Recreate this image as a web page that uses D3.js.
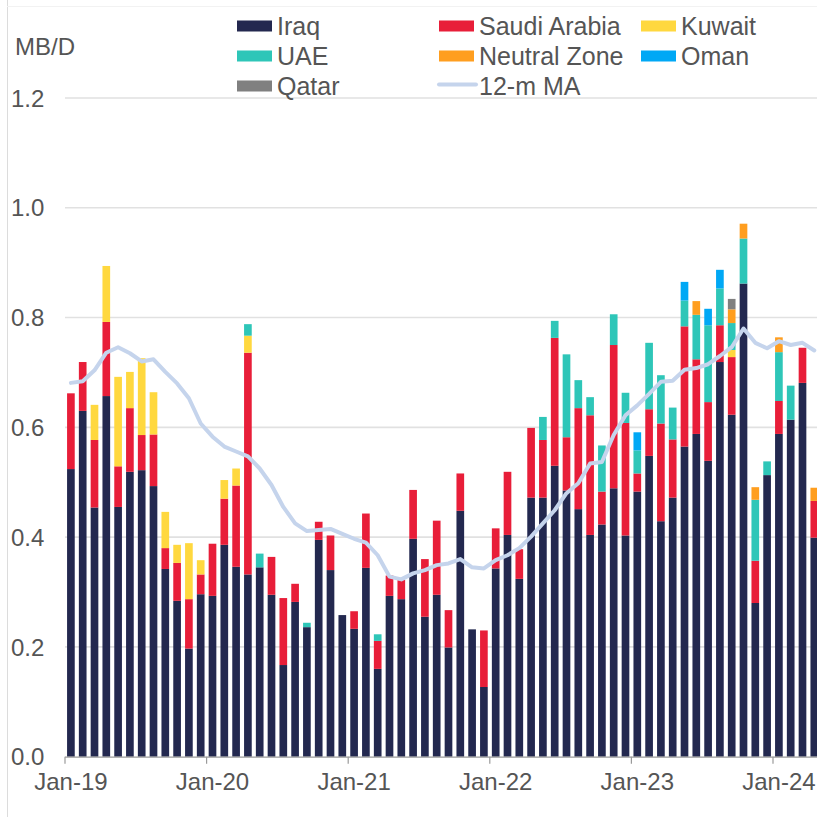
<!DOCTYPE html>
<html>
<head>
<meta charset="utf-8">
<script src="https://cdn.jsdelivr.net/npm/d3@7"></script>
<style>
  body { margin: 0; background: #fff; }
  svg { display: block; font-family: "Liberation Sans", Arial, sans-serif; }
</style>
</head>
<body>
<div id="chart"></div>
<script>
// months Jan-19 .. Apr-24
var months = ["Jan-19","Feb-19","Mar-19","Apr-19","May-19","Jun-19","Jul-19","Aug-19","Sep-19","Oct-19","Nov-19","Dec-19",
  "Jan-20","Feb-20","Mar-20","Apr-20","May-20","Jun-20","Jul-20","Aug-20","Sep-20","Oct-20","Nov-20","Dec-20",
  "Jan-21","Feb-21","Mar-21","Apr-21","May-21","Jun-21","Jul-21","Aug-21","Sep-21","Oct-21","Nov-21","Dec-21",
  "Jan-22","Feb-22","Mar-22","Apr-22","May-22","Jun-22","Jul-22","Aug-22","Sep-22","Oct-22","Nov-22","Dec-22",
  "Jan-23","Feb-23","Mar-23","Apr-23","May-23","Jun-23","Jul-23","Aug-23","Sep-23","Oct-23","Nov-23","Dec-23",
  "Jan-24","Feb-24","Mar-24","Apr-24"];

var iraq = [0.524,0.630,0.454,0.657,0.455,0.519,0.522,0.493,0.342,0.284,0.197,0.296,
  0.293,0.386,0.346,0.332,0.345,0.295,0.167,0.282,0.236,0.395,0.340,0.258,
  0.233,0.344,0.160,0.293,0.287,0.397,0.255,0.295,0.199,0.448,0.232,0.127,
  0.343,0.404,0.324,0.472,0.472,0.530,0.485,0.451,0.404,0.423,0.489,0.403,
  0.483,0.548,0.429,0.472,0.565,0.588,0.539,0.719,0.623,0.862,0.280,0.513,
  0.588,0.614,0.681,0.399];
var saudi = [0.138,0.089,0.123,0.135,0.074,0.116,0.064,0.094,0.038,0.069,0.090,0.036,
  0.095,0.084,0.148,0.404,0,0.069,0.122,0.033,0,0.033,0.063,0,
  0.032,0.099,0.051,0.037,0.035,0.089,0.105,0.135,0.068,0.068,0,0.103,
  0.073,0.115,0.054,0.127,0.105,0.233,0.097,0.184,0.218,0.060,0.261,0.205,
  0.033,0.085,0.178,0.106,0.219,0.136,0.107,0.067,0.105,0,0.077,0,
  0.060,0,0.064,0.067];
var kuwait = [0,0,0.064,0.102,0.163,0.066,0.140,0.077,0.066,0.033,0.102,0.026,
  0,0.034,0.031,0.031,0,0,0,0,0,0,0,0,
  0,0,0,0,0,0,0,0,0,0,0,0,
  0,0,0,0,0,0,0,0,0,0,0,0,
  0,0,0,0,0,0,0,0,0.013,0,0,0,
  0,0,0,0];
var uae = [0,0,0,0,0,0,0,0,0,0,0,0,
  0,0,0,0.021,0.025,0,0,0,0.008,0,0,0,
  0,0,0.012,0,0,0,0,0,0,0,0,0,
  0,0,0,0,0.042,0.031,0.151,0.051,0.033,0.084,0.056,0.055,
  0.042,0.121,0.088,0.058,0.047,0.081,0.140,0.067,0.049,0.082,0.111,0.025,
  0.089,0.062,0,0];
var neutral = [0,0,0,0,0,0,0,0,0,0,0,0,
  0,0,0,0,0,0,0,0,0,0,0,0,
  0,0,0,0,0,0,0,0,0,0,0,0,
  0,0,0,0,0,0,0,0,0,0,0,0,
  0,0,0,0,0,0.025,0,0,0.025,0.027,0.023,0,
  0.027,0,0,0.024];
var oman = [0,0,0,0,0,0,0,0,0,0,0,0,
  0,0,0,0,0,0,0,0,0,0,0,0,
  0,0,0,0,0,0,0,0,0,0,0,0,
  0,0,0,0,0,0,0,0,0,0,0,0,
  0.033,0,0,0,0.034,0,0.030,0.034,0,0,0,0,
  0,0,0,0];
var qatar = [0,0,0,0,0,0,0,0,0,0,0,0,
  0,0,0,0,0,0,0,0,0,0,0,0,
  0,0,0,0,0,0,0,0,0,0,0,0,
  0,0,0,0,0,0,0,0,0,0,0,0,
  0,0,0,0,0,0,0,0,0.019,0,0,0,
  0,0,0,0];
var ma12 = [0.681,0.684,0.704,0.736,0.746,0.735,0.720,0.724,0.701,0.680,0.653,0.607,
  0.583,0.565,0.556,0.547,0.525,0.495,0.455,0.425,0.411,0.413,0.415,0.406,
  0.397,0.390,0.367,0.328,0.323,0.334,0.340,0.349,0.352,0.360,0.345,0.343,
  0.358,0.367,0.380,0.401,0.425,0.449,0.480,0.498,0.534,0.537,0.586,0.622,
  0.640,0.661,0.683,0.685,0.705,0.708,0.715,0.730,0.746,0.780,0.754,0.744,
  0.757,0.750,0.754,0.740];

var seriesNames = ["Iraq","Saudi Arabia","Kuwait","UAE","Neutral Zone","Oman","Qatar"];
var seriesValues = [iraq, saudi, kuwait, uae, neutral, oman, qatar];
var seriesColors = ["#23284f","#e81e39","#ffd83f","#2ec6b8","#ff9e1f","#00a8f5","#808080"];
var yTicks = [0, 0.2, 0.4, 0.6, 0.8, 1.0, 1.2];
var xTickLabels = ["Jan-19","Jan-20","Jan-21","Jan-22","Jan-23","Jan-24"];

var width = 817, height = 817;
var left = 65, step = 11.8;

var svg = d3.select("#chart").append("svg")
    .attr("width", width)
    .attr("height", height);

// light frame lines
svg.append("line").attr("x1", 7.5).attr("x2", 7.5).attr("y1", 0).attr("y2", height)
    .style("stroke", "#dcdcdc").style("stroke-width", 1);
svg.append("line").attr("x1", 7).attr("x2", width).attr("y1", 6.5).attr("y2", 6.5)
    .style("stroke", "#f2f2f2").style("stroke-width", 1);

var x = d3.scaleBand()
    .domain(months)
    .range([left, left + months.length * step])
    .paddingInner(0.35)
    .paddingOuter(0.175);

var y = d3.scaleLinear()
    .domain([0, 1.2])
    .range([756.7, 98]);

// gridlines
svg.selectAll(".grid")
    .data(yTicks.slice(1))
    .enter()
    .append("line")
    .attr("x1", left)
    .attr("x2", width)
    .attr("y1", function(d) { return y(d); })
    .attr("y2", function(d) { return y(d); })
    .style("stroke", "#e1e1e1")
    .style("stroke-width", 1.6);

// y labels
svg.selectAll(".ylab")
    .data(yTicks)
    .enter()
    .append("text")
    .attr("x", 11)
    .attr("y", function(d) { return y(d); })
    .attr("dy", "0.36em")
    .attr("font-size", "24px")
    .attr("fill", "#555")
    .text(function(d) { return d.toFixed(1); });

svg.append("text")
    .attr("x", 15)
    .attr("y", 55)
    .attr("font-size", "24px")
    .attr("fill", "#555")
    .text("MB/D");

// stacked bars
var table = months.map(function(m, i) {
    var row = { month: m };
    seriesNames.forEach(function(s, k) { row[s] = seriesValues[k][i]; });
    return row;
});
var stacked = d3.stack().keys(seriesNames)(table);

var layer = svg.selectAll(".layer")
    .data(stacked)
    .enter()
    .append("g")
    .attr("fill", function(d, k) { return seriesColors[k]; });

layer.selectAll("rect")
    .data(function(d) { return d.filter(function(p) { return p[1] - p[0] > 0; }); })
    .enter()
    .append("rect")
    .attr("x", function(d) { return x(d.data.month); })
    .attr("width", x.bandwidth())
    .attr("y", function(d) { return y(d[1]); })
    .attr("height", function(d) { return y(d[0]) - y(d[1]); });

// x axis
var boundary = function(m) { return x(m) - x.step() * x.paddingInner() / 2; };
svg.append("line")
    .attr("x1", left).attr("x2", width)
    .attr("y1", y(0) + 0.5).attr("y2", y(0) + 0.5)
    .style("stroke", "#9a9a9a").style("stroke-width", 1.2);

svg.selectAll(".xtick")
    .data(xTickLabels)
    .enter()
    .append("line")
    .attr("x1", function(d) { return boundary(d); })
    .attr("x2", function(d) { return boundary(d); })
    .attr("y1", y(0))
    .attr("y2", y(0) + 7)
    .style("stroke", "#9a9a9a").style("stroke-width", 1.2);

svg.selectAll(".xlab")
    .data(xTickLabels)
    .enter()
    .append("text")
    .attr("x", function(d) { return x(d) + x.bandwidth() / 2; })
    .attr("y", 790)
    .attr("text-anchor", "middle")
    .attr("font-size", "24px")
    .attr("fill", "#555")
    .text(function(d) { return d; });

// 12-m moving average
var line = d3.line()
    .x(function(d, i) { return x(months[i]) + x.bandwidth() / 2; })
    .y(function(d) { return y(d); });

svg.append("path")
    .datum(ma12)
    .attr("d", line)
    .attr("fill", "none")
    .style("stroke", "#c5d4ec")
    .style("stroke-width", 4)
    .style("stroke-linejoin", "round")
    .style("stroke-linecap", "round");

// legend
var legendX = [237, 439, 641];
var legendY = [26, 56, 86];
var legendItems = seriesNames.map(function(s, k) { return { name: s, color: seriesColors[k], type: "box" }; });
legendItems.push({ name: "12-m MA", color: "#c5d4ec", type: "line" });
var legendPos = [[0,0],[1,0],[2,0],[0,1],[1,1],[2,1],[0,2],[1,2]];

var leg = svg.selectAll(".legend")
    .data(legendItems)
    .enter()
    .append("g")
    .attr("transform", function(d, i) {
        return "translate(" + legendX[legendPos[i][0]] + "," + legendY[legendPos[i][1]] + ")";
    });

leg.filter(function(d) { return d.type === "box"; })
    .append("rect")
    .attr("x", 0).attr("y", -5.5)
    .attr("width", 35).attr("height", 11)
    .attr("fill", function(d) { return d.color; });

leg.filter(function(d) { return d.type === "line"; })
    .append("line")
    .attr("x1", 0).attr("x2", 37).attr("y1", -1.5).attr("y2", -1.5)
    .style("stroke", function(d) { return d.color; })
    .style("stroke-width", 4)
    .style("stroke-linecap", "round");

leg.append("text")
    .attr("x", 40)
    .attr("y", 0)
    .attr("dy", "0.36em")
    .attr("font-size", "25px")
    .attr("fill", "#555")
    .text(function(d) { return d.name; });
</script>
</body>
</html>
